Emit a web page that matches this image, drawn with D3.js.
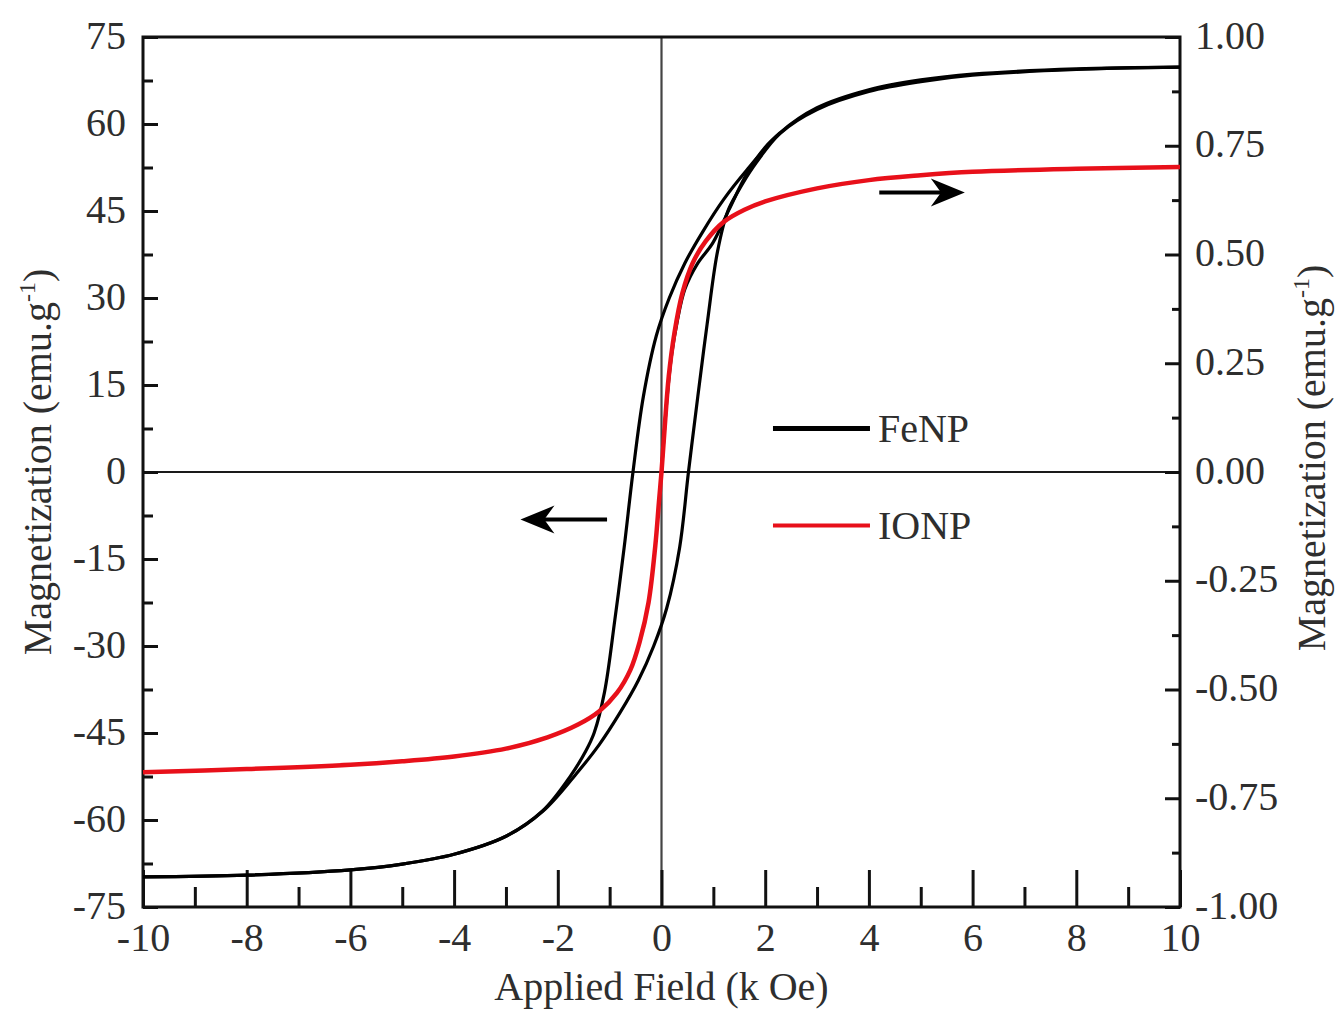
<!DOCTYPE html>
<html>
<head>
<meta charset="utf-8">
<script src="https://cdn.jsdelivr.net/npm/d3@7"></script>
<style>
  body { margin: 0; background: #fff; }
  text { font-family: "Liberation Serif", "Times New Roman", serif; fill: #2e2e2e; }
</style>
</head>
<body>
<svg width="1337" height="1011"></svg>
<script>
// FeNP, descending field branch [H (kOe), M (emu/g)]
const feUpper = [
  [-10, -69.8], [-8, -69.5], [-6, -68.6], [-5, -67.6], [-4, -65.9], [-3, -62.8],
  [-2.29, -58.4], [-1.77, -52.6], [-1.46, -48.1], [-1.3, -45], [-1.1, -38],
  [-0.9, -25.5], [-0.72, -13], [-0.55, 0], [-0.35, 13], [-0.1, 23.5], [0.15, 30],
  [0.45, 36], [0.8, 41.5], [1.2, 47], [1.65, 52.1], [2.29, 58.5], [3, 62.8],
  [4, 65.9], [5, 67.6], [6, 68.6], [8, 69.5], [10, 69.8]
];
// FeNP, ascending field branch
const feLower = [
  [-10, -69.8], [-8, -69.5], [-6, -68.6], [-5, -67.6], [-4, -65.9], [-3, -62.8],
  [-2.29, -58.5], [-1.65, -52.1], [-1.2, -47], [-0.8, -41.5], [-0.45, -36],
  [-0.15, -30], [0.1, -23.5], [0.35, -13], [0.52, 0], [0.7, 13], [0.88, 25.5],
  [1.08, 38], [1.28, 45], [1.46, 48.1], [1.77, 52.6], [2.29, 58.4], [3, 62.5],
  [4, 65.6], [5, 67.3], [6, 68.4], [8, 69.4], [10, 69.8]
];
// FeNP, initial magnetization
const feInitial = [
  [0, 0], [0.1, 12], [0.2, 20.5], [0.3, 25.8], [0.45, 31.5], [0.7, 36],
  [0.99, 39.5], [1.3, 45.2], [1.65, 51.5], [2.0, 56], [2.29, 58.5]
];
// IONP [H (kOe), M (emu/g), right axis]
const ionp = [
  [-10, -0.69], [-8, -0.683], [-6, -0.673], [-5, -0.665], [-4, -0.654], [-3, -0.636],
  [-2.2, -0.61], [-1.6, -0.58], [-1.2, -0.55], [-0.86, -0.508], [-0.6, -0.455],
  [-0.42, -0.39], [-0.25, -0.3], [-0.12, -0.17], [-0.05, -0.07], [0, 0],
  [0.06, 0.1], [0.14, 0.22], [0.25, 0.32], [0.4, 0.41], [0.6, 0.48], [0.85, 0.53],
  [1.2, 0.575], [1.6, 0.603], [2, 0.622], [3, 0.652], [4, 0.671], [5, 0.682],
  [6, 0.69], [8, 0.697], [10, 0.701]
];

const xTicks = d3.range(-10, 10.1, 2);
const xMinor = d3.range(-9, 10, 2);
const yLeftTicks = d3.range(-75, 75.1, 15);
const yLeftMinor = d3.range(-67.5, 75, 15);
const yRightTicks = d3.range(-1, 1.01, 0.25);
const yRightMinor = d3.range(-0.875, 1, 0.25);

const legendItems = [
  { name: 'FeNP', color: '#000' },
  { name: 'IONP', color: '#e8101a' }
];

const svg = d3.select('svg');
const width = +svg.attr('width');
const height = +svg.attr('height');
const margin = { top: 37, right: 157, bottom: 104, left: 143 };
const innerWidth = width - margin.left - margin.right;
const innerHeight = height - margin.top - margin.bottom;
const fontSize = '40px';

const xScale = d3.scaleLinear().domain([-10, 10]).range([0, innerWidth]);
const yLeft = d3.scaleLinear().domain([-75, 75]).range([innerHeight, 0]);
const yRight = d3.scaleLinear().domain([-1, 1]).range([innerHeight, 0]);

// plain hyphen for negatives, as in the original figure
const hyphen = f => d => f(d).replace('\u2212', '-');

const g = svg.append('g')
  .attr('transform', `translate(${margin.left}, ${margin.top})`);

// zero lines
g.append('line')
  .attr('x1', 0).attr('x2', innerWidth)
  .attr('y1', yLeft(0)).attr('y2', yLeft(0))
  .attr('stroke', '#1a1a1a').attr('stroke-width', 2.2);
g.append('line')
  .attr('x1', xScale(0)).attr('x2', xScale(0))
  .attr('y1', 0).attr('y2', innerHeight)
  .attr('stroke', '#444').attr('stroke-width', 2.2);

// axes (ticks pointing inward)
const styleAxis = sel => {
  sel.selectAll('.domain').remove();
  sel.selectAll('line').attr('stroke', '#111').attr('stroke-width', 3);
  sel.selectAll('text').style('font-size', fontSize)
    .style('font-family', '"Liberation Serif", serif').attr('fill', '#2e2e2e');
};

const xAxis = g.append('g')
  .attr('transform', `translate(0, ${innerHeight})`)
  .call(d3.axisBottom(xScale).tickValues(xTicks).tickSize(-37).tickPadding(16)
    .tickFormat(hyphen(d3.format('d'))));
styleAxis(xAxis);
const xMinorAxis = g.append('g')
  .attr('transform', `translate(0, ${innerHeight})`)
  .call(d3.axisBottom(xScale).tickValues(xMinor).tickSize(-20).tickFormat(''));
styleAxis(xMinorAxis);

const yAxisL = g.append('g')
  .call(d3.axisLeft(yLeft).tickValues(yLeftTicks).tickSize(-15).tickPadding(17)
    .tickFormat(hyphen(d3.format('d'))));
styleAxis(yAxisL);
yAxisL.selectAll('text').attr('dy', '0.28em');
const yMinorL = g.append('g')
  .call(d3.axisLeft(yLeft).tickValues(yLeftMinor).tickSize(-10).tickFormat(''));
styleAxis(yMinorL);

const yAxisR = g.append('g')
  .attr('transform', `translate(${innerWidth}, 0)`)
  .call(d3.axisRight(yRight).tickValues(yRightTicks).tickSize(-15).tickPadding(15)
    .tickFormat(hyphen(d3.format('.2f'))));
styleAxis(yAxisR);
yAxisR.selectAll('text').attr('dy', '0.28em');
const yMinorR = g.append('g')
  .attr('transform', `translate(${innerWidth}, 0)`)
  .call(d3.axisRight(yRight).tickValues(yRightMinor).tickSize(-8).tickFormat(''));
styleAxis(yMinorR);

// frame
g.append('rect')
  .attr('width', innerWidth).attr('height', innerHeight)
  .attr('fill', 'none').attr('stroke', '#111').attr('stroke-width', 3);

// curves
const lineLeft = d3.line()
  .x(d => xScale(d[0]))
  .y(d => yLeft(d[1]))
  .curve(d3.curveCatmullRom.alpha(0.5));
const lineRight = d3.line()
  .x(d => xScale(d[0]))
  .y(d => yRight(d[1]))
  .curve(d3.curveCatmullRom.alpha(0.5));

[feUpper, feLower, feInitial].forEach(series => {
  g.append('path')
    .attr('d', lineLeft(series))
    .attr('fill', 'none')
    .attr('stroke', '#000')
    .attr('stroke-width', 3.2);
});

g.append('path')
  .attr('d', lineRight(ionp))
  .attr('fill', 'none')
  .attr('stroke', legendItems[1].color)
  .attr('stroke-width', 4.5);

// legend
const legend = g.append('g')
  .attr('transform', `translate(${xScale(2.15)}, ${yLeft(7.5)})`);
legendItems.forEach((d, i) => {
  const row = legend.append('g').attr('transform', `translate(0, ${i * 97})`);
  row.append('line')
    .attr('x1', 0).attr('x2', 97)
    .attr('stroke', d.color).attr('stroke-width', i === 0 ? 5 : 4);
  row.append('text')
    .attr('x', 105).attr('dy', '0.33em')
    .style('font-size', fontSize)
    .text(d.name);
});

// arrows pointing to the matching axis
const arrows = [
  { from: [4.2, 48.2], to: [5.85, 48.2] },
  { from: [-1.05, -8.2], to: [-2.72, -8.2] }
];
arrows.forEach(a => {
  const x1 = xScale(a.from[0]), x2 = xScale(a.to[0]), y = yLeft(a.from[1]);
  const dir = Math.sign(x2 - x1);
  const headLen = 34, headHalf = 14;
  g.append('line')
    .attr('x1', x1).attr('x2', x2 - dir * headLen * 0.6)
    .attr('y1', y).attr('y2', y)
    .attr('stroke', '#000').attr('stroke-width', 4);
  g.append('path')
    .attr('d', `M${x2},${y} L${x2 - dir * headLen},${y - headHalf} L${x2 - dir * headLen * 0.7},${y} L${x2 - dir * headLen},${y + headHalf} Z`)
    .attr('fill', '#000');
});

// axis titles
svg.append('text')
  .attr('x', margin.left + innerWidth / 2)
  .attr('y', 1000)
  .attr('text-anchor', 'middle')
  .style('font-size', fontSize)
  .text('Applied Field (k Oe)');

const yTitle = (x, y) => {
  const t = svg.append('text')
    .attr('transform', `translate(${x}, ${y}) rotate(-90)`)
    .attr('text-anchor', 'middle')
    .style('font-size', fontSize);
  t.append('tspan').text('Magnetization (emu.g');
  t.append('tspan').attr('dy', -16).style('font-size', '24px').text('-1');
  t.append('tspan').attr('dy', 16).text(')');
};
yTitle(51, 462);
yTitle(1325, 458);
</script>
</body>
</html>
